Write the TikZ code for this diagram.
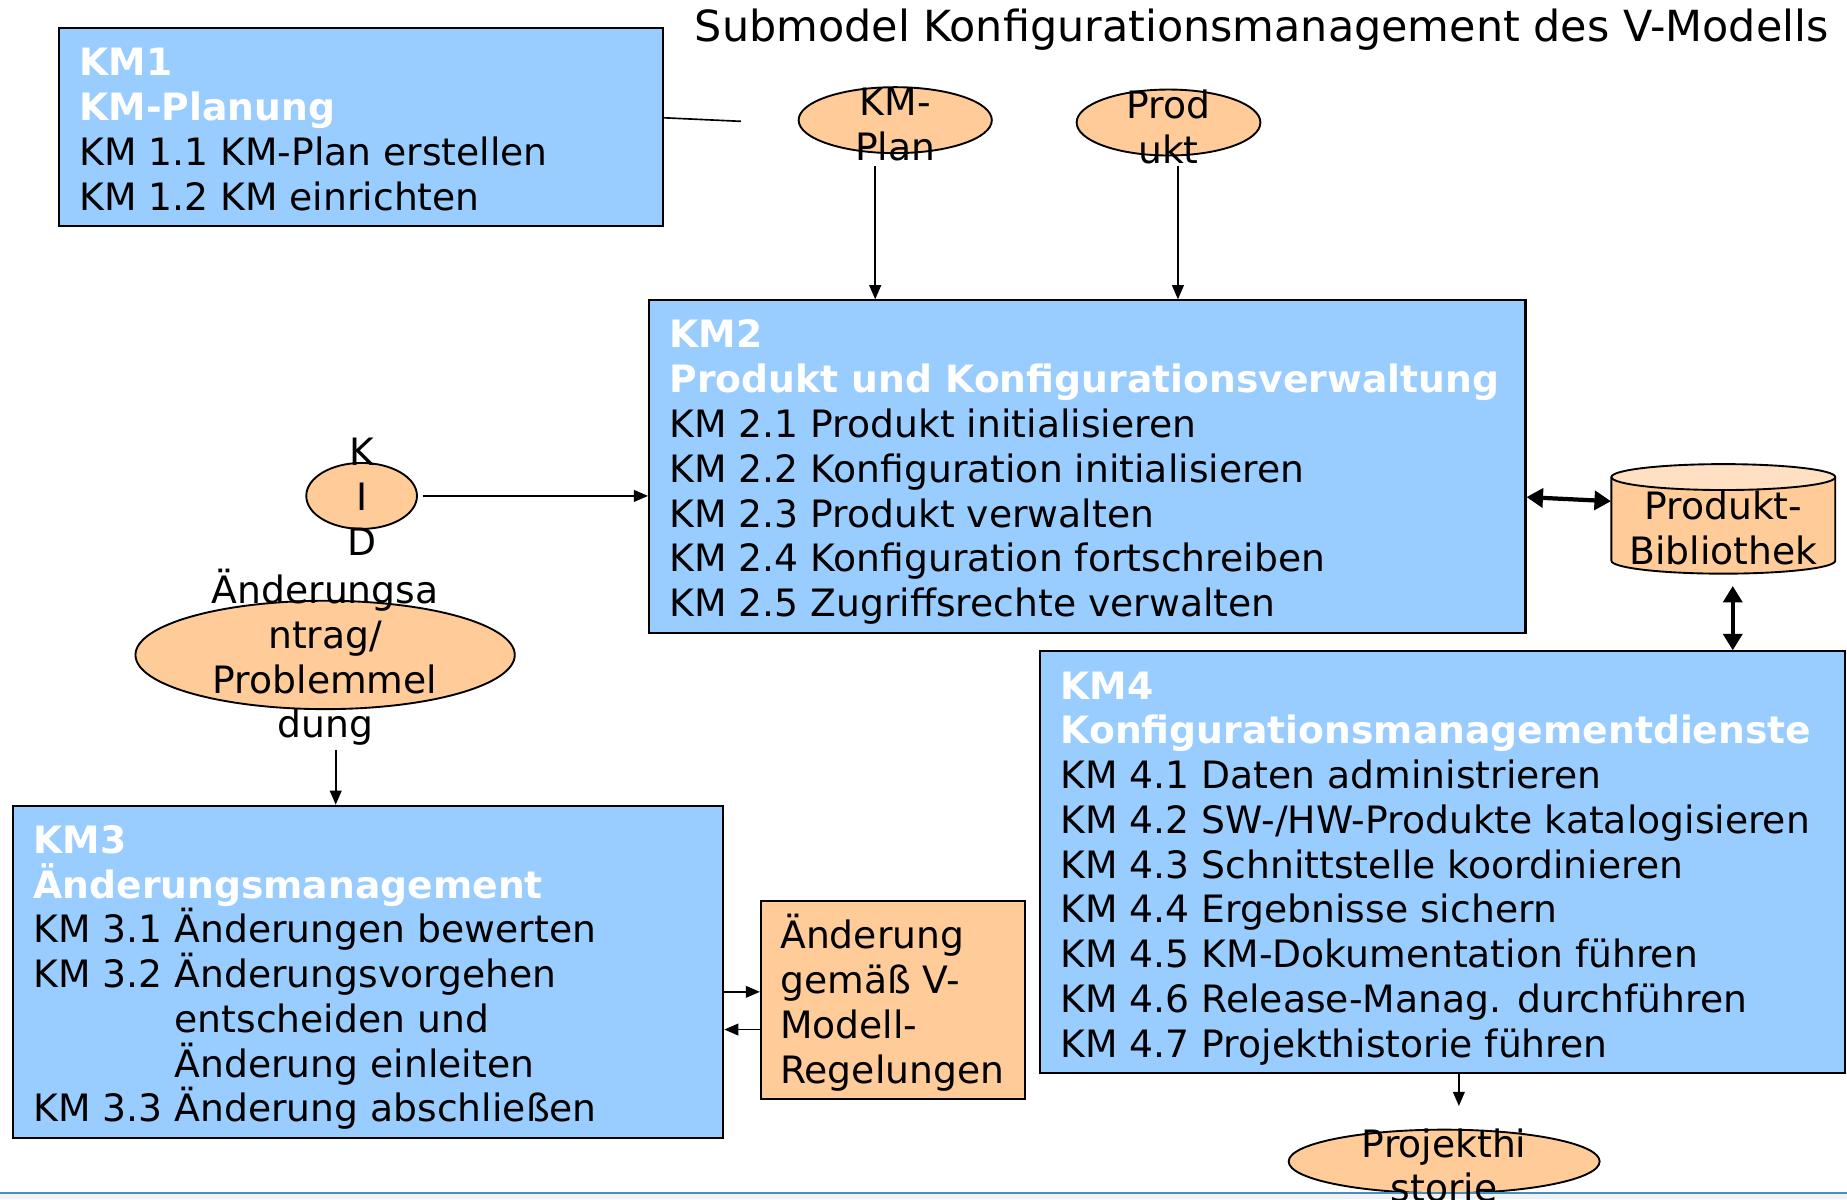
\documentclass[tikz,border=0pt]{standalone}
\usepackage{fontspec}
\setmainfont{DejaVu Sans}
\usetikzlibrary{arrows.meta,fit,calc,shapes.geometric}
\definecolor{boxblue}{HTML}{99CCFF}
\definecolor{boxorange}{HTML}{FFCC99}
\definecolor{toporange}{HTML}{FFE0C2}
\definecolor{tealline}{HTML}{4A8DB8}
\definecolor{bandgray}{HTML}{EEF2F6}
\newcommand\kmhead[1]{\textcolor{white}{\textbf{#1}}}
\newcommand\kmstrut{\rule{0pt}{15.5pt}}
\begin{document}
\begin{tikzpicture}[x=0.5pt,y=-0.5pt,
 box/.style={draw=black, line width=0.9pt, fill=boxblue, inner sep=0pt},
 obox/.style={draw=black, line width=0.9pt, fill=boxorange, inner sep=0pt},
 oval/.style={ellipse, draw=black, line width=0.8pt, fill=boxorange, inner sep=0pt},
 txt/.style={inner sep=0pt, anchor=north west, align=left, font=\fontsize{16}{19}\selectfont},
 ctxt/.style={inner sep=0pt, anchor=north, align=center, font=\fontsize{16}{19}\selectfont},
 arr/.style={line width=0.7pt, -{Triangle[length=6pt,width=5pt]}},
 darr/.style={line width=1.8pt, {Triangle[length=7pt,width=8pt]}-{Triangle[length=7pt,width=8pt]}}]
\useasboundingbox (0,0) rectangle (1568,1018);

% title
\node[inner sep=0pt, anchor=base, font=\fontsize{18.2}{22}\selectfont] (title) at (1071,35) {Submodel Konfigurationsmanagement des V-Modells};

% boxes
\node[box, fit={(50,24) (563,192)}] (km1) {};
\node[box, fit={(551,255) (1295,537)}] (km2) {};
\node[box, fit={(11,684) (614,966)}] (km3) {};
\node[box, fit={(883,553) (1566,911)}] (km4) {};
\node[obox, fit={(646,765) (870,933)}] (aeg) {};

\node[txt] (km1t) at (67,33) {\kmstrut\kmhead{KM1}\\\kmhead{KM-Planung}\\KM 1.1 KM-Plan erstellen\\KM 1.2 KM einrichten};
\node[txt] (km2t) at (568,264) {\kmstrut\kmhead{KM2}\\\kmhead{Produkt und Konfigurationsverwaltung}\\KM 2.1 Produkt initialisieren\\KM 2.2 Konfiguration initialisieren\\KM 2.3 Produkt verwalten\\KM 2.4 Konfiguration fortschreiben\\KM 2.5 Zugriffsrechte verwalten};
\node[txt] (km3t) at (28,693) {\kmstrut\kmhead{KM3}\\\kmhead{Änderungsmanagement}\\KM 3.1 Änderungen bewerten\\KM 3.2 Änderungsvorgehen\\\phantom{KM 3.2 }entscheiden und\\\phantom{KM 3.2 }Änderung einleiten\\KM 3.3 Änderung abschließen};
\node[txt] (km4t) at (900,562) {\kmstrut\kmhead{KM4}\\\kmhead{Konfigurationsmanagementdienste}\\KM 4.1 Daten administrieren\\KM 4.2 SW-/HW-Produkte katalogisieren\\KM 4.3 Schnittstelle koordinieren\\KM 4.4 Ergebnisse sichern\\KM 4.5 KM-Dokumentation führen\\KM 4.6 Release-Manag. durchführen\\KM 4.7 Projekthistorie führen};
\node[txt] (aegt) at (662,774) {\kmstrut Änderung\\gemäß V-\\Modell-\\Regelungen};

% ellipses
\node[oval, minimum width=82pt, minimum height=28pt] (kmplan) at (760,102) {};
\node[oval, minimum width=78pt, minimum height=28pt] (produkt) at (992,104) {};
\node[oval, minimum width=47pt, minimum height=28pt] (kid) at (307,421) {};
\node[oval, minimum width=161pt, minimum height=46pt] (aend) at (276,556) {};
\node[oval, minimum width=132pt, minimum height=27pt] (projekt) at (1226,986) {};

% bottom band
\fill[bandgray] (0,1014) rectangle (1568,1018);
\draw[tealline, line width=1pt] (0,1013) -- (1568,1013);

\node[ctxt] (kmplant) at (760,67) {\kmstrut KM-\\Plan};
\node[ctxt] (produktt) at (992,69) {\kmstrut Prod\\ukt};
\node[ctxt] (kidt) at (307,364) {\kmstrut K\\I\\D};
\node[ctxt] (aendt) at (276,481) {\kmstrut Änderungsa\\ntrag/\\Problemmel\\dung};
\node[ctxt] (projektt) at (1226,951) {\kmstrut Projekthi\\storie};

% cylinder
\node[inner sep=0pt, fit={(1368,394) (1558,487)}] (lib) {};
\path[draw=black, line width=0.8pt, fill=boxorange] (1368,405) -- (1368,476) arc[start angle=180, end angle=360, x radius=47.5pt, y radius=5.5pt] -- (1558,405);
\draw[line width=0.8pt, fill=toporange] (1463,405) ellipse[x radius=47.5pt, y radius=5.5pt];
\node[ctxt] (libt) at (1463,410) {\kmstrut Produkt-\\Bibliothek};

% connectors
\coordinate (kmend) at (629,103);
\draw[line width=0.7pt] ([yshift=4pt]km1.east) -- (kmend);
\draw[arr] ([shift={(-17,10)}]kmplan.south) coordinate (p1) -- (p1 |- km2.north);
\draw[arr] ([shift={(8,8)}]produkt.south) coordinate (p2) -- (p2 |- km2.north);
\draw[arr] ([xshift=2pt]kid.east) coordinate (p3) -- (p3 -| km2.west);
\draw[arr] ([shift={(9,34)}]aend.south) coordinate (p4) -- (p4 |- km3.north);
\draw[arr] ([yshift=3.5pt]aeg.west) coordinate (q1) (q1 -| km3.east) -- (q1);
\draw[arr] ([yshift=-12.5pt]aeg.west) coordinate (q2) -- (q2 -| km3.east);
\draw[darr] ([yshift=-13pt]km2.east) -- ([yshift=7.5pt]lib.west);
\draw[darr] ([shift={(8,10)}]lib.south) coordinate (r1) -- (r1 |- km4.north);
\draw[arr] ([xshift=7pt]km4.south) -- ++(0,27);
\end{tikzpicture}
\end{document}
